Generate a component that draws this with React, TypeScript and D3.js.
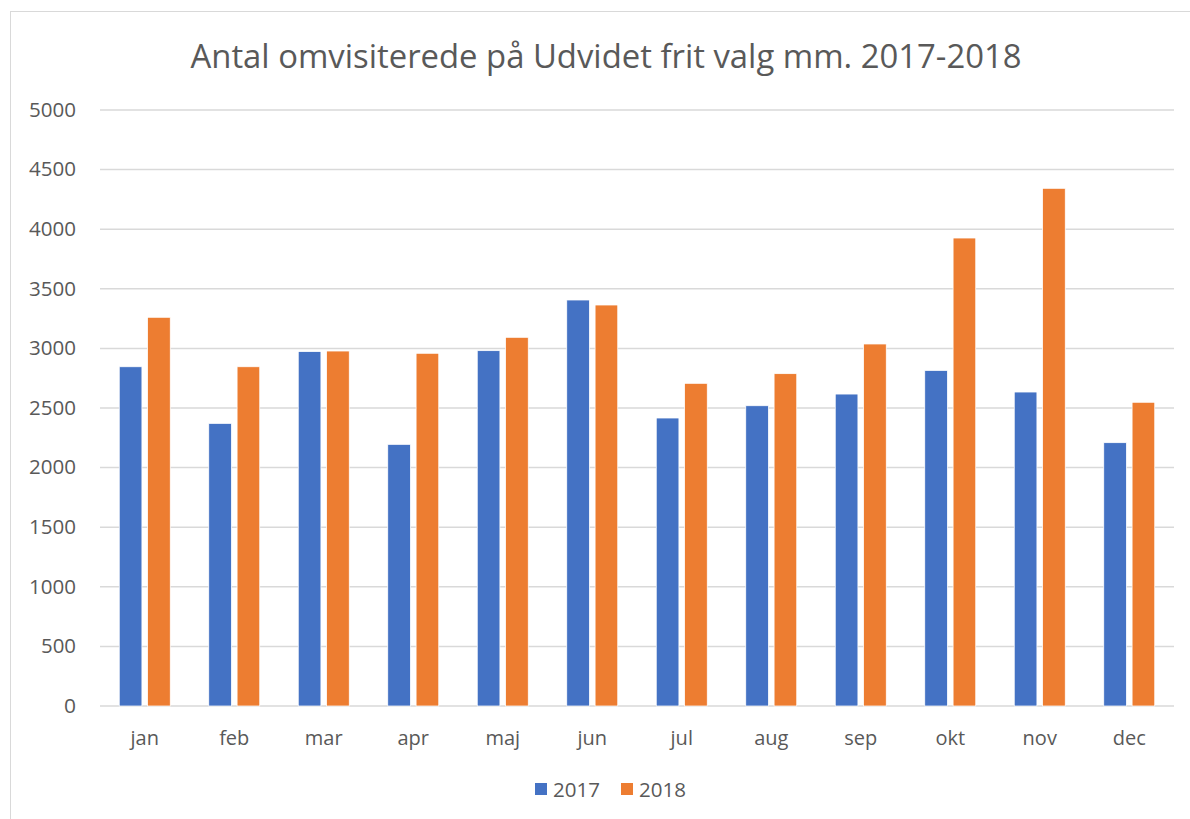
import React from "react";
import * as d3 from "d3";

const months = ["jan", "feb", "mar", "apr", "maj", "jun", "jul", "aug", "sep", "okt", "nov", "dec"];
const series2017 = [2846, 2371, 2973, 2195, 2981, 3406, 2416, 2519, 2617, 2815, 2634, 2209];
const series2018 = [3261, 2846, 2978, 2959, 3093, 3364, 2707, 2788, 3037, 3926, 4343, 2548];
const seriesNames = ["2017", "2018"];
const seriesColors = ["#4472C4", "#ED7D31"];
const yTicks = [0, 500, 1000, 1500, 2000, 2500, 3000, 3500, 4000, 4500, 5000];
const title = "Antal omvisiterede på Udvidet frit valg mm. 2017-2018";

export default function App() {
  const W = 1190, H = 819;
  const left = 100, right = 1174, top = 110, bottom = 706;
  const x = d3.scaleBand<string>().domain(months).range([left, right]).paddingInner(0).paddingOuter(0);
  const y = d3.scaleLinear().domain([0, 5000]).range([bottom, top]);
  const x1 = d3.scaleBand<string>().domain(seriesNames).range([-25.5, 25.5]).paddingInner(0.2);
  const data = [series2017, series2018];
  const font = "Open Sans, Lato, sans-serif";
  const textColor = "#595959";
  return (
    <svg width={W} height={H} style={{ position: "absolute", left: 0, top: 0, background: "#fff" }}>
      <rect x={10.5} y={11.5} width={1200} height={900} fill="#fff" stroke="#d9d9d9" strokeWidth={1} />
      <text x={606} y={68} textAnchor="middle" fontFamily={font} fontSize={32} fill={textColor} textLength={831} lengthAdjust="spacingAndGlyphs">{title}</text>
      {yTicks.map((t) => (
        <g key={t}>
          <line x1={left} x2={right} y1={y(t)} y2={y(t)} stroke="#d9d9d9" strokeWidth={1.5} />
          <text x={76} y={y(t)} dy="0.35em" textAnchor="end" fontFamily={font} fontSize={19.5} fill={textColor} textLength={t >= 1000 ? 47 : t >= 100 ? 35 : 12} lengthAdjust="spacingAndGlyphs">{t}</text>
        </g>
      ))}
      {months.map((m, i) => (
        <g key={m}>
          {seriesNames.map((s, j) => {
            const bx = (x(m) as number) + x.bandwidth() / 2 + (x1(s) as number);
            const v = data[j][i];
            return (
              <rect key={s} x={bx} y={y(v)} width={x1.bandwidth()} height={y(0) - y(v)} fill={seriesColors[j]} stroke="#fff" strokeWidth={0.75} />
            );
          })}
          <text x={(x(m) as number) + x.bandwidth() / 2} y={745} textAnchor="middle" fontFamily={font} fontSize={20} fill={textColor}>{m}</text>
        </g>
      ))}
      {seriesNames.map((s, j) => {
        const lx = 535 + j * 86;
        return (
          <g key={s}>
            <rect x={lx} y={783} width={12} height={12} fill={seriesColors[j]} />
            <text x={lx + 18} y={797} fontFamily={font} fontSize={20} fill={textColor} textLength={47} lengthAdjust="spacingAndGlyphs">{s}</text>
          </g>
        );
      })}
    </svg>
  );
}
